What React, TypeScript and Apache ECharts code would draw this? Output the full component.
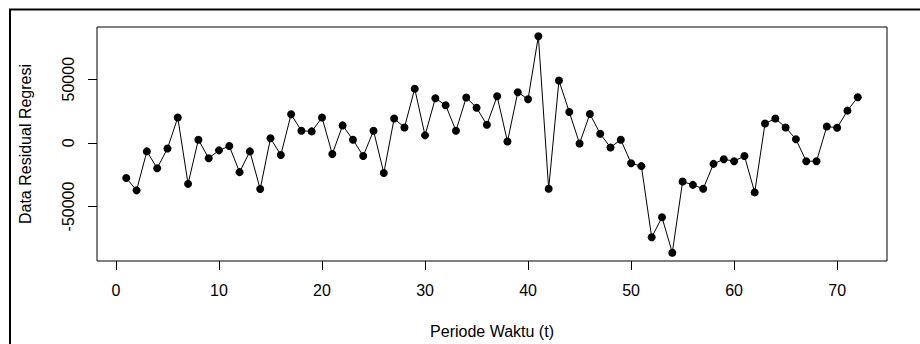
import React, { useEffect, useRef } from "react";
import * as echarts from "echarts";

const periods: number[] = [
  1, 2, 3, 4, 5, 6, 7, 8, 9, 10, 11, 12, 13, 14, 15, 16, 17, 18, 19, 20, 21, 22, 23, 24,
  25, 26, 27, 28, 29, 30, 31, 32, 33, 34, 35, 36, 37, 38, 39, 40, 41, 42, 43, 44, 45, 46, 47, 48,
  49, 50, 51, 52, 53, 54, 55, 56, 57, 58, 59, 60, 61, 62, 63, 64, 65, 66, 67, 68, 69, 70, 71, 72,
];

const residuals: number[] = [
  -27600, -37300, -6700, -19900, -4400, 19900, -32200, 2500, -12100, -5900, -2500, -23000,
  -6700, -36300, 3600, -9500, 22400, 9500, 9000, 19900, -8800, 13700, 2500, -10300,
  9500, -23700, 19100, 12100, 42500, 5900, 35000, 29600, 9500, 35600, 27600, 14200,
  36600, 1000, 39700, 34300, 83700, -36100, 49000, 24200, -500, 22700, 7200, -3600,
  2500, -16000, -18300, -74200, -58500, -86300, -30400, -33000, -36100, -16500, -12900, -14400,
  -10300, -38900, 15200, 19100, 12100, 2800, -14400, -14400, 12900, 11800, 25300, 35800,
];

const xTicks: number[] = [0, 10, 20, 30, 40, 50, 60, 70];
const yTicks: number[] = [-50000, 0, 50000];

const xTitle = "Periode Waktu (t)";
const yTitle = "Data Residual Regresi";

export default function App() {
  const ref = useRef<HTMLDivElement>(null);

  useEffect(() => {
    if (!ref.current) return;
    const chart = echarts.init(ref.current, null, { renderer: "svg" });
    const font = "'Liberation Sans', Arial, sans-serif";
    const data = periods.map((p, i) => [p, residuals[i]]);
    chart.setOption({
      animation: false,
      backgroundColor: "#ffffff",
      graphic: [
        {
          type: "rect",
          shape: { x: 10, y: 9.5, width: 1000, height: 1000 },
          style: { fill: "none", stroke: "#000", lineWidth: 2 },
          silent: true,
        },
      ],
      grid: {
        left: 97,
        right: 33,
        top: 27,
        bottom: 79,
        show: true,
        borderColor: "#000",
        borderWidth: 1,
        backgroundColor: "transparent",
      },
      xAxis: {
        type: "value",
        min: -1.84,
        max: 74.84,
        name: xTitle,
        nameLocation: "middle",
        nameGap: 62,
        nameTextStyle: { color: "#000", fontFamily: font, fontSize: 16 },
        axisLine: { show: false, onZero: false },
        axisTick: {
          show: true,
          length: 9,
          customValues: xTicks,
          lineStyle: { color: "#000", width: 1 },
        },
        axisLabel: {
          customValues: xTicks,
          color: "#000",
          fontFamily: font,
          fontSize: 16,
          margin: 21,
          formatter: (v: number) => String(v),
        },
        splitLine: { show: false },
      },
      yAxis: {
        type: "value",
        min: -92800,
        max: 91000,
        name: yTitle,
        nameLocation: "middle",
        nameGap: 64,
        nameRotate: 90,
        nameTextStyle: { color: "#000", fontFamily: font, fontSize: 16 },
        axisLine: { show: false, onZero: false },
        axisTick: {
          show: true,
          length: 9,
          customValues: yTicks,
          lineStyle: { color: "#000", width: 1 },
        },
        axisLabel: {
          customValues: yTicks,
          rotate: 90,
          color: "#000",
          fontFamily: font,
          fontSize: 16,
          margin: 21,
          formatter: (v: number) => String(v),
        },
        splitLine: { show: false },
      },
      series: [
        {
          type: "line",
          data,
          symbol: "circle",
          symbolSize: 8,
          showSymbol: true,
          lineStyle: { color: "#000", width: 1 },
          itemStyle: { color: "#000" },
          emphasis: { disabled: true },
        },
      ],
    });
    return () => chart.dispose();
  }, []);

  return (
    <div
      ref={ref}
      style={{ position: "absolute", left: 0, top: 0, width: 920, height: 344 }}
    />
  );
}
